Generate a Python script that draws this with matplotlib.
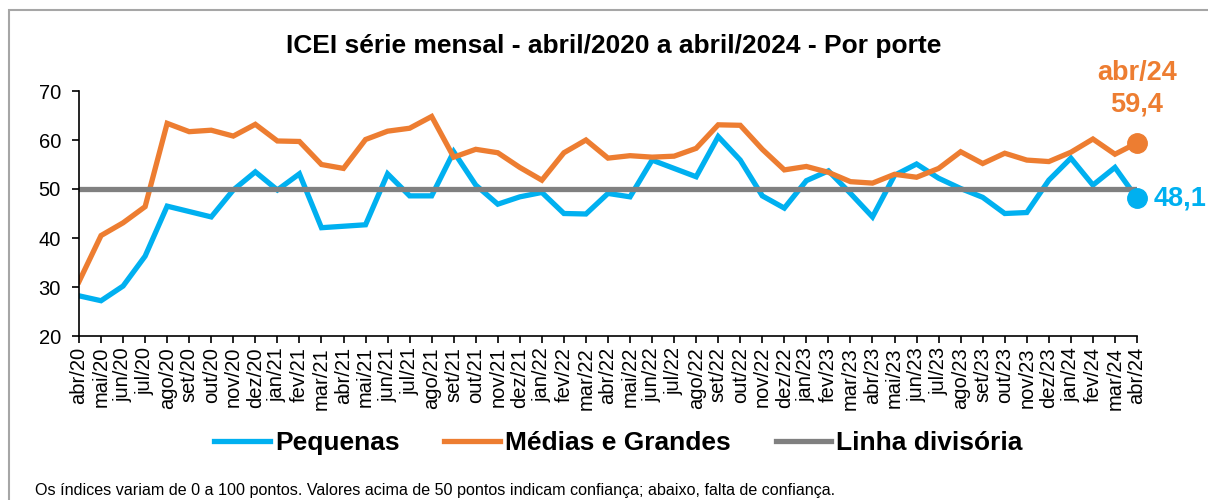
import matplotlib
matplotlib.use("Agg")
import matplotlib.pyplot as plt
from matplotlib.patches import Rectangle

plt.rcParams['font.family'] = ['Liberation Sans', 'DejaVu Sans']

# -----------------------------
# DATA
# -----------------------------
months = ["abr/20", "mai/20", "jun/20", "jul/20", "ago/20", "set/20", "out/20", "nov/20", "dez/20",
          "jan/21", "fev/21", "mar/21", "abr/21", "mai/21", "jun/21", "jul/21", "ago/21", "set/21",
          "out/21", "nov/21", "dez/21",
          "jan/22", "fev/22", "mar/22", "abr/22", "mai/22", "jun/22", "jul/22", "ago/22", "set/22",
          "out/22", "nov/22", "dez/22",
          "jan/23", "fev/23", "mar/23", "abr/23", "mai/23", "jun/23", "jul/23", "ago/23", "set/23",
          "out/23", "nov/23", "dez/23",
          "jan/24", "fev/24", "mar/24", "abr/24"]

pequenas = [28.2, 27.2, 30.2, 36.3, 46.5, 45.4, 44.3, 49.8, 53.5,
            49.8, 53.1, 42.1, 42.4, 42.7, 53.1, 48.6, 48.6, 57.6, 50.8, 46.9, 48.4,
            49.3, 45.0, 44.9, 49.1, 48.4, 55.9, 54.2, 52.5, 60.7, 55.9, 48.6, 46.1,
            51.7, 53.7, 49.1, 44.3, 52.8, 55.1, 52.2, 50.1, 48.3, 45.0, 45.2, 51.8,
            56.3, 50.8, 54.4, 48.1]

medias_grandes = [31.1, 40.5, 43.1, 46.4, 63.4, 61.7, 62.0, 60.8, 63.2,
                  59.8, 59.7, 55.0, 54.2, 60.1, 61.8, 62.4, 64.8, 56.5, 58.1, 57.4, 54.4,
                  51.8, 57.4, 60.0, 56.3, 56.8, 56.5, 56.7, 58.3, 63.1, 63.0, 58.1, 53.9,
                  54.6, 53.4, 51.5, 51.2, 53.0, 52.4, 54.2, 57.6, 55.2, 57.3, 55.9, 55.6,
                  57.5, 60.2, 57.1, 59.4]

linha_divisoria = 50

blue = "#00B0F0"
orange = "#ED7D31"
gray = "#808080"

x = list(range(len(months)))

# -----------------------------
# FIGURE
# -----------------------------
fig = plt.figure(figsize=(12.08, 5.0), dpi=100)
fig.patches.append(Rectangle((9 / 1208, -0.1), 1.2, 1 - 10 / 500 + 0.1, transform=fig.transFigure,
                             fill=False, edgecolor="#A6A6A6", linewidth=1.5))

ax = fig.add_axes([79 / 1208, 1 - 336 / 500, (1137 - 79) / 1208, (336 - 91) / 500])

ax.plot(x, pequenas, color=blue, linewidth=3.8, label="Pequenas", solid_joinstyle="miter")
ax.plot(x, medias_grandes, color=orange, linewidth=3.8, label="Médias e Grandes", solid_joinstyle="miter")
ax.plot(x, [linha_divisoria] * len(x), color=gray, linewidth=3.8, label="Linha divisória")

# end markers
ax.plot(x[-1], medias_grandes[-1], "o", color=orange, markersize=14, clip_on=False)
ax.plot(x[-1], pequenas[-1], "o", color=blue, markersize=14, clip_on=False)

ax.annotate(f"{months[-1]}\n{medias_grandes[-1]:.1f}".replace(".", ","),
            xy=(x[-1], medias_grandes[-1]), xytext=(0, 18), textcoords="offset points",
            ha="center", va="bottom", color=orange, fontsize=19.5, fontweight="bold",
            linespacing=1.3, annotation_clip=False)
ax.annotate(f"{pequenas[-1]:.1f}".replace(".", ","),
            xy=(x[-1], pequenas[-1]), xytext=(12, 0), textcoords="offset points",
            ha="left", va="center", color=blue, fontsize=19.5, fontweight="bold",
            annotation_clip=False)

ax.set_xlim(0, len(x) - 1)
ax.set_ylim(20, 70)
ax.set_yticks([20, 30, 40, 50, 60, 70])
ax.set_xticks(x)
ax.set_xticklabels(months, rotation=90, fontsize=14.5)
ax.tick_params(axis="y", labelsize=14.5, length=5, width=1.2, pad=8)
ax.tick_params(axis="x", length=5, width=1.2, pad=3)
ax.spines["top"].set_visible(False)
ax.spines["right"].set_visible(False)
ax.spines["left"].set_linewidth(1.2)
ax.spines["bottom"].set_linewidth(1.2)

fig.text(0.508, 0.908, "ICEI série mensal - abril/2020 a abril/2024 - Por porte",
         ha="center", va="center", fontsize=19, fontweight="bold")

leg = fig.legend(loc="center", bbox_to_anchor=(0.512, 0.114), ncol=3, frameon=False,
                 prop={"size": 19, "weight": "bold"}, handlelength=2.1, handletextpad=0.2,
                 columnspacing=1.7)

fig.text(35 / 1208, 1 - 490 / 500, "Os índices variam de 0 a 100 pontos. Valores acima de 50 pontos "
         "indicam confiança; abaixo, falta de confiança.", ha="left", va="center", fontsize=11.6)

fig.savefig("out.png", dpi=100)
